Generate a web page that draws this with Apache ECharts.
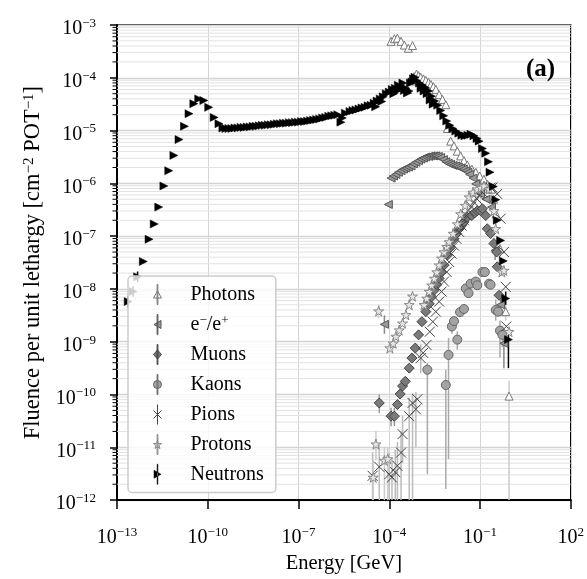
<!DOCTYPE html>
<html><head><meta charset="utf-8">
<script src="https://cdn.jsdelivr.net/npm/echarts@6/dist/echarts.min.js"></script>
<style>html,body{margin:0;padding:0;background:#fff}#c{width:587px;height:579px}</style>
</head><body><div id="c"></div><script>
// All values are log10 readings: [log10(Energy/GeV), log10(Fluence)]
const xTicksLog = [-13, -10, -7, -4, -1, 2];
const yTicksLog = [-12, -11, -10, -9, -8, -7, -6, -5, -4, -3];

const photons = [
 [-3.94,-3.31],[-3.83,-3.26],[-3.73,-3.25],[-3.61,-3.31],[-3.50,-3.38],[-3.37,-3.44],[-3.23,-3.39],
 [-3.40,-4.22],[-3.27,-4.06],[-3.18,-3.98],[-3.10,-3.93],[-3.03,-3.96],[-2.96,-3.99],[-2.87,-4.02],[-2.79,-4.05],
 [-2.70,-4.09],[-2.62,-4.13],[-2.54,-4.17],[-2.46,-4.22],[-2.35,-4.32],[-2.24,-4.41],[-2.13,-4.51],[-2.08,-4.96],
 [-1.97,-5.20],[-1.86,-5.29],[-1.75,-5.39],[-1.64,-5.48],[-1.53,-5.57],[-1.42,-5.65],[-1.27,-5.73],[-1.14,-5.79],
 [-1.01,-5.86],[-0.87,-5.92],[-0.75,-6.02],[-0.63,-6.11],[-0.55,-6.30],[-0.47,-6.58],[-0.34,-7.24],[-0.15,-8.43],[-0.04,-10.03]
];
const photonsErr = [[-0.04,-12,-9.74],[-0.15,-8.6,-8.25],[-0.34,-7.4,-7.1]];

const electrons = [
 [-4.16,-8.67],[-4.03,-6.40],[-3.94,-5.90],[-3.86,-5.86],[-3.78,-5.83],[-3.70,-5.79],[-3.61,-5.76],[-3.53,-5.73],
 [-3.45,-5.71],[-3.37,-5.69],[-3.28,-5.67],[-3.20,-5.63],[-3.12,-5.60],[-3.03,-5.57],[-2.95,-5.54],[-2.87,-5.52],
 [-2.79,-5.50],[-2.70,-5.49],[-2.62,-5.48],[-2.54,-5.48],[-2.46,-5.48],[-2.38,-5.49],[-2.30,-5.51],[-2.21,-5.55],
 [-2.13,-5.59],[-2.05,-5.62],[-1.97,-5.64],[-1.89,-5.66],[-1.80,-5.67],[-1.72,-5.69],[-1.64,-5.71],[-1.55,-5.73],
 [-1.47,-5.76],[-1.40,-5.79],[-1.34,-5.83],[-1.23,-5.90],[-1.14,-6.01],[-0.98,-6.20],[-0.80,-6.30],[-0.62,-6.45],
 [-0.50,-7.27],[-0.32,-8.30],[-0.21,-9.03]
];
const electronsErr = [[-4.16,-8.85,-8.5],[-0.21,-9.5,-8.8],[-0.32,-8.5,-8.15],[-0.50,-7.45,-7.1]];

const muons = [
 [-4.33,-10.16],[-3.94,-10.41],[-3.83,-10.41],[-3.73,-10.19],[-3.64,-9.99],[-3.56,-9.84],[-3.47,-9.75],[-3.34,-9.50],
 [-3.25,-9.31],[-3.14,-9.12],[-3.03,-8.87],[-2.92,-8.62],[-2.79,-8.43],[-2.68,-8.28],[-2.60,-8.15],[-2.51,-8.02],
 [-2.43,-7.92],[-2.35,-7.80],[-2.27,-7.68],[-2.19,-7.55],[-2.08,-7.36],[-1.97,-7.21],[-1.86,-7.05],[-1.78,-6.95],
 [-1.69,-6.86],[-1.61,-6.80],[-1.53,-6.73],[-1.42,-6.64],[-1.27,-6.61],[-1.18,-6.56],[-1.09,-6.52],[-0.98,-6.52],
 [-0.92,-6.48],[-0.81,-6.61],[-0.76,-6.86],[-0.65,-6.95],[-0.54,-7.14],[-0.45,-7.30],[-0.43,-7.58],[-0.37,-8.12]
];
const muonsErr = [[-4.33,-10.35,-10.0],[-3.94,-10.6,-10.25],[-3.83,-10.6,-10.25]];

const kaons = [
 [-2.74,-9.53],[-2.13,-9.82],[-2.04,-9.25],[-1.93,-8.71],[-1.86,-8.61],[-1.75,-8.96],[-1.66,-8.44],[-1.53,-8.38],
 [-1.47,-7.99],[-1.38,-8.08],[-1.31,-7.90],[-1.14,-7.86],[-1.09,-7.93],[-0.92,-7.68],[-0.84,-7.68],[-0.70,-7.90],
 [-0.65,-7.92],[-0.48,-8.40],[-0.40,-8.43],[-0.34,-8.79],[-0.26,-8.87]
];
const kaonsErr = [[-2.74,-11.51,-9.40],[-2.13,-11.79,-9.53],[-2.04,-11.22,-8.93],[-1.75,-9.15,-8.80],
 [-1.93,-8.85,-8.55],[-0.34,-9.3,-8.6],[-0.26,-9.1,-8.7],[-0.48,-8.6,-8.2]];

const pions = [
 [-4.55,-11.54],[-4.33,-11.37],[-4.00,-11.51],[-3.91,-11.57],[-3.80,-11.47],[-3.73,-11.35],[-3.61,-11.10],[-3.56,-10.75],
 [-3.34,-10.41],[-3.23,-10.16],[-3.12,-10.28],[-3.07,-10.09],[-2.96,-9.31],[-2.88,-9.21],[-2.77,-9.06],[-2.66,-8.81],
 [-2.56,-8.62],[-2.46,-8.43],[-2.35,-8.24],[-2.27,-8.05],[-2.19,-7.86],[-2.10,-7.68],[-2.02,-7.49],[-1.94,-7.33],
 [-1.86,-7.18],[-1.78,-7.05],[-1.69,-6.92],[-1.61,-6.80],[-1.53,-6.70],[-1.45,-6.61],[-1.38,-6.52],[-1.29,-6.44],
 [-1.20,-6.36],[-1.11,-6.29],[-1.03,-6.23],[-0.92,-6.17],[-0.81,-6.11],[-0.65,-6.08],[-0.59,-6.08],[-0.43,-6.20],
 [-0.32,-6.67],[-0.21,-7.30],[-0.15,-7.96],[-0.13,-8.71]
];
const pionsErr = [[-4.55,-12,-11.1],[-4.33,-12,-10.95],[-4.00,-12,-11.1],[-3.91,-12,-11.2],[-3.80,-12,-11.05],
 [-3.73,-12,-10.9],[-3.61,-12,-10.7],[-3.56,-11.3,-10.4],[-3.34,-12,-10.06],[-3.23,-12,-9.97],[-3.12,-11.0,-9.95],
 [-2.96,-9.6,-9.05]];

const protons = [
 [-4.53,-11.57],[-4.44,-10.94],[-4.16,-11.25],[-4.05,-11.22],[-4.35,-8.42],[-3.98,-9.12],[-3.87,-9.03],[-3.78,-8.90],
 [-3.67,-8.78],[-3.56,-8.65],[-3.45,-8.49],[-3.34,-8.30],[-3.23,-8.14],[-2.85,-8.30],[-2.76,-8.18],[-2.68,-8.05],
 [-2.60,-7.93],[-2.51,-7.80],[-2.43,-7.68],[-2.35,-7.55],[-2.27,-7.42],[-2.19,-7.30],[-2.10,-7.20],[-2.02,-7.11],
 [-1.89,-6.95],[-1.75,-6.77],[-1.64,-6.58],[-1.49,-6.42],[-1.36,-6.26],[-1.23,-6.17],[-1.09,-6.11],[-0.97,-6.08],
 [-0.87,-6.05],[-0.70,-6.11],[-0.54,-6.52],[-0.48,-6.86],[-0.28,-7.68],[-0.21,-7.65],[-0.04,-8.81]
];
const protonsErr = [[-4.53,-12,-11.25],[-4.44,-11.25,-10.69],[-4.16,-12,-11.0],[-4.05,-12,-11.0],[-4.35,-8.55,-8.3]];

const neutrons = [
 [-12.63,-8.24],[-12.47,-8.05],[-12.32,-7.77],
 [-12.13,-7.48],[-11.94,-7.06],[-11.77,-6.77],[-11.62,-6.45],[-11.45,-6.05],[-11.29,-5.76],[-11.12,-5.47],[-10.95,-5.17],
 [-10.77,-4.92],[-10.62,-4.68],[-10.46,-4.49],[-10.30,-4.40],[-10.13,-4.43],[-9.97,-4.56],[-9.79,-4.75],[-9.63,-4.87],
 [-9.50,-4.95],[-9.40,-4.96],[-9.30,-4.96],[-9.20,-4.96],[-9.10,-4.95],[-9.00,-4.95],[-8.90,-4.94],[-8.80,-4.94],
 [-8.70,-4.93],[-8.60,-4.93],[-8.50,-4.92],[-8.40,-4.92],[-8.30,-4.91],[-8.20,-4.90],[-8.10,-4.90],[-8.00,-4.89],
 [-7.90,-4.89],[-7.80,-4.88],[-7.70,-4.87],[-7.60,-4.87],[-7.50,-4.86],[-7.40,-4.86],[-7.30,-4.85],[-7.20,-4.85],
 [-7.10,-4.84],[-7.00,-4.84],[-6.90,-4.83],[-6.80,-4.83],[-6.70,-4.82],[-6.60,-4.81],[-6.50,-4.80],[-6.40,-4.79],
 [-6.30,-4.78],[-6.20,-4.76],[-6.10,-4.75],[-6.00,-4.73],[-5.90,-4.72],[-5.80,-4.71],[-5.70,-4.70],[-5.60,-4.84],
 [-5.55,-4.76],[-5.45,-4.67],[-5.30,-4.64],[-5.20,-4.62],[-5.10,-4.61],[-5.00,-4.59],[-4.90,-4.57],[-4.80,-4.56],
 [-4.70,-4.53],[-4.60,-4.52],[-4.50,-4.48],[-4.45,-4.55],[-4.40,-4.44],[-4.30,-4.40],[-4.25,-4.45],[-4.20,-4.36],
 [-4.10,-4.30],[-4.00,-4.27],[-3.90,-4.22],[-3.85,-4.30],[-3.80,-4.20],[-3.75,-4.25],[-3.70,-4.14],[-3.60,-4.20],
 [-3.55,-4.10],[-3.50,-4.24],[-3.45,-4.20],[-3.40,-4.29],[-3.35,-4.25],[-3.30,-4.10],[-3.25,-4.08],[-3.20,-4.02],
 [-3.15,-3.99],[-3.10,-4.05],[-3.00,-4.10],[-2.95,-4.20],[-2.90,-4.14],[-2.85,-4.25],[-2.80,-4.19],[-2.75,-4.30],
 [-2.70,-4.25],[-2.65,-4.42],[-2.60,-4.35],[-2.55,-4.50],[-2.50,-4.44],[-2.40,-4.52],[-2.30,-4.62],[-2.20,-4.72],
 [-2.10,-4.82],[-2.00,-4.90],[-1.90,-4.96],[-1.80,-5.01],[-1.70,-5.05],[-1.60,-5.09],[-1.50,-5.10],[-1.40,-5.09],
 [-1.30,-5.07],[-1.20,-5.10],[-1.10,-5.15],[-1.03,-5.20],[-0.92,-5.34],[-0.81,-5.43],[-0.72,-5.59],[-0.67,-5.79],
 [-0.56,-6.06],[-0.48,-6.31],[-0.43,-6.70],[-0.32,-7.08],[-0.23,-7.47],[-0.15,-8.18],[-0.06,-8.96]
];
const neutronsErr = [[-12.63,-8.35,-8.13],[-12.47,-8.15,-7.95],[-12.32,-7.87,-7.67],[-0.06,-9.5,-8.85],[-0.15,-8.3,-8.05]];

const FONT = 'Liberation Serif';
const sup = v => (v < 0 ? '\u2212' : '') + Math.abs(v);
const tickFmt = v => '{b|10}{e|' + sup(Math.round(v)) + '}';
const tickRich = {
  b: { fontSize: 20, fontFamily: FONT, color: '#000', lineHeight: 24 },
  e: { fontSize: 13, fontFamily: FONT, color: '#000', lineHeight: 13, verticalAlign: 'top' }
};

// minor (log-spaced) grid positions between decades
const minorLog = [];
for (let n = yTicksLog[0]; n < yTicksLog[yTicksLog.length - 1]; n++) {
  for (let k = 2; k <= 9; k++) minorLog.push(n + Math.log10(k));
}
const xMin = xTicksLog[0], xMax = xTicksLog[xTicksLog.length - 1];

const STAR = 'path://M5,0L6.18,3.82L10,3.82L6.91,6.18L8.09,10L5,7.64L1.91,10L3.09,6.18L0,3.82L3.82,3.82Z';
const XMARK = 'path://M0,0L10,10M10,0L0,10';
const BAR = 'M3.6,0H4.4V20H3.6Z';

function errSeries(data, color, width) {
  return {
    type: 'custom', silent: true, data: data, z: 2,
    encode: { x: 0, y: [1, 2] },
    renderItem: function (p, api) {
      const a = api.coord([api.value(0), api.value(1)]);
      const b = api.coord([api.value(0), api.value(2)]);
      return { type: 'line', shape: { x1: a[0], y1: a[1], x2: b[0], y2: b[1] }, style: { stroke: color, lineWidth: width } };
    }
  };
}
function minorSeries(color, isTick) {
  return {
    type: 'custom', silent: true, z: 1, clip: false,
    data: minorLog.map(v => [xMin, v, xMax]), encode: { x: [0, 2], y: 1 },
    renderItem: function (p, api) {
      const a = api.coord([api.value(0), api.value(1)]);
      const b = api.coord([api.value(2), api.value(1)]);
      const xs = isTick ? [a[0] - 4.5, a[0]] : [a[0], b[0]];
      return { type: 'line', shape: { x1: xs[0], y1: a[1], x2: xs[1], y2: a[1] }, style: { stroke: color, lineWidth: 1 } };
    }
  };
}
function sc(name, data, symbol, size, style, rot) {
  return { name: name, type: 'scatter', data: data, symbol: symbol, symbolSize: size, symbolRotate: rot || 0,
    itemStyle: Object.assign({ opacity: 1 }, style), z: 3, emphasis: { disabled: true } };
}
const styles = {
  'Photons': { color: '#ffffff', borderColor: '#777', borderWidth: 1 },
  'e-/e+': { color: '#9a9a9a', borderColor: '#555', borderWidth: 1 },
  'Muons': { color: '#7a7a7a', borderColor: '#444', borderWidth: 1 },
  'Kaons': { color: '#a3a3a3', borderColor: '#666', borderWidth: 1 },
  'Pions': { color: 'rgba(0,0,0,0)', borderColor: '#444', borderWidth: 1 },
  'Protons': { color: '#e6e6e6', borderColor: '#888', borderWidth: 1 },
  'Neutrons': { color: '#000000', borderColor: '#000', borderWidth: 0.5 }
};

const chart = echarts.init(document.getElementById('c'), null, { renderer: 'canvas' });
chart.setOption({
  animation: false,
  backgroundColor: '#fff',
  grid: { left: 117, right: 14, top: 25, bottom: 76, show: true, borderColor: '#000', borderWidth: 1.5, backgroundColor: 'transparent' },
  xAxis: {
    type: 'value', min: xMin, max: xMax, interval: 3,
    name: 'Energy [GeV]', nameLocation: 'middle', nameGap: 49,
    nameTextStyle: { fontFamily: FONT, fontSize: 20.5, color: '#000' },
    axisLine: { onZero: false, lineStyle: { color: '#000', width: 2 } },
    axisTick: { length: 9, lineStyle: { color: '#000', width: 1.5 } },
    axisLabel: { formatter: tickFmt, rich: tickRich, margin: 26, showMinLabel: true, showMaxLabel: true },
    splitLine: { show: true, lineStyle: { color: '#d4d4d4', width: 1 } }
  },
  yAxis: {
    type: 'value', min: yTicksLog[0], max: yTicksLog[yTicksLog.length - 1], interval: 1,
    name: 'Fluence per unit lethargy [cm{s|\u22122} POT{s|\u22121}]', nameLocation: 'middle', nameGap: 57,
    nameTextStyle: { fontFamily: FONT, fontSize: 22.5, color: '#000',
      rich: { s: { fontFamily: FONT, fontSize: 15, verticalAlign: 'top', lineHeight: 15 } } },
    axisLine: { onZero: false, lineStyle: { color: '#000', width: 2 } },
    axisTick: { length: 7, lineStyle: { color: '#000', width: 1.5 } },
    axisLabel: { formatter: tickFmt, rich: tickRich, margin: 21, padding: [8, 0, 0, 0] },
    splitLine: { show: true, lineStyle: { color: '#d4d4d4', width: 1.3 } }
  },
  legend: {
    orient: 'vertical', left: 128, top: 276,
    padding: [8, 12, 8, 25], itemGap: 9, itemWidth: 8, itemHeight: 20,
    backgroundColor: 'rgba(255,255,255,0.8)', borderColor: '#cccccc', borderWidth: 1.5, borderRadius: 4,
    textStyle: { fontFamily: FONT, fontSize: 20, color: '#000', lineHeight: 20, padding: [0, 0, 0, 24],
      rich: { s: { fontFamily: FONT, fontSize: 13, verticalAlign: 'top', lineHeight: 12 } } },
    formatter: n => n === 'e-/e+' ? 'e{s|\u2212}/e{s|+}' : n,
    selectedMode: false,
    data: [
      { name: 'Photons', icon: 'path://' + BAR + 'M4,6.5L8,13.5L0,13.5Z', itemStyle: styles['Photons'] },
      { name: 'e-/e+', icon: 'path://' + BAR + 'M0.5,10L7.5,6L7.5,14Z', itemStyle: styles['e-/e+'] },
      { name: 'Muons', icon: 'path://' + BAR + 'M4,5.5L8,10L4,14.5L0,10Z', itemStyle: styles['Muons'] },
      { name: 'Kaons', icon: 'path://' + BAR + 'M0,10A4,4 0 1,0 8,10A4,4 0 1,0 0,10Z', itemStyle: styles['Kaons'] },
      { name: 'Pions', icon: 'path://M0,6L8,14M8,6L0,14M4,0L4,20', itemStyle: styles['Pions'] },
      { name: 'Protons', icon: 'path://' + BAR + 'M4,6L4.94,9.06L8,9.06L5.53,10.94L6.47,14L4,12.11L1.53,14L2.47,10.94L0,9.06L3.06,9.06Z', itemStyle: styles['Protons'] },
      { name: 'Neutrons', icon: 'path://' + BAR + 'M7.5,10L0.5,6L0.5,14Z', itemStyle: styles['Neutrons'] }
    ]
  },
  graphic: [{ type: 'text', left: 526, top: 57, z: 10,
    style: { text: '(a)', fontFamily: FONT, fontWeight: 'bold', fontSize: 25, fill: '#000' } }],
  series: [
    minorSeries('#e2e2e2', false),
    minorSeries('#000000', true),
    errSeries(photonsErr, '#cccccc', 1.5),
    sc('Photons', photons, 'triangle', 8, styles['Photons']),
    errSeries(electronsErr, '#888888', 1.5),
    sc('e-/e+', electrons, 'triangle', 8, styles['e-/e+'], 90),
    errSeries(muonsErr, '#999999', 1.5),
    sc('Muons', muons, 'diamond', 10, styles['Muons']),
    errSeries(kaonsErr, '#aaaaaa', 1.5),
    sc('Kaons', kaons, 'circle', 9, styles['Kaons']),
    errSeries(pionsErr, '#bbbbbb', 1.5),
    sc('Pions', pions, XMARK, 10, styles['Pions']),
    errSeries(protonsErr, '#cccccc', 1.5),
    sc('Protons', protons, STAR, 10, styles['Protons']),
    errSeries(neutronsErr, '#000000', 1.5),
    sc('Neutrons', neutrons, 'triangle', 8, styles['Neutrons'], -90)
  ]
});
</script></body></html>
